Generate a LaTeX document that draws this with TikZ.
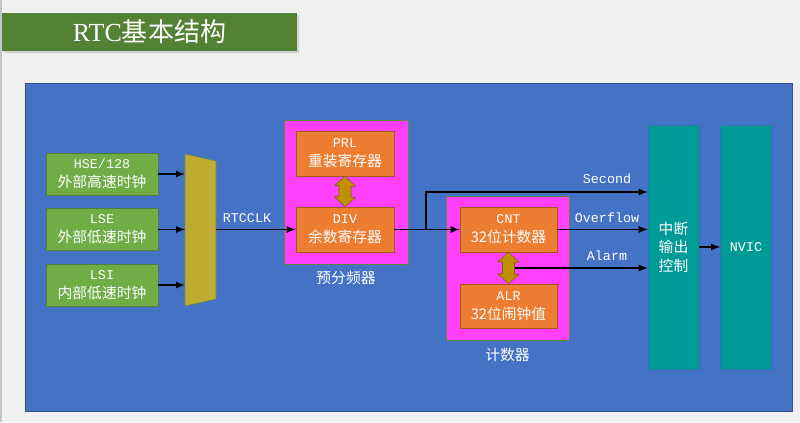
\documentclass[tikz,border=0pt]{standalone}
\usepackage{fontspec}
\setmainfont{Noto Sans CJK SC}
\setmonofont{Liberation Mono}
\newfontfamily\titlefont{Liberation Serif}
\usepackage{tikz}
\usetikzlibrary{shapes,arrows,shadows,positioning}

\definecolor{bgc}{HTML}{F0F0F0}
\definecolor{titlegreen}{HTML}{548235}
\definecolor{panelblue}{HTML}{4472C4}
\definecolor{panelline}{HTML}{2F528F}
\definecolor{clkgreen}{HTML}{70AD47}
\definecolor{clkline}{HTML}{507E32}
\definecolor{muxfill}{HTML}{BFAB32}
\definecolor{muxline}{HTML}{6F8F3F}
\definecolor{grpmag}{HTML}{FF40FF}
\definecolor{grpline}{HTML}{5A8A3A}
\definecolor{regorange}{HTML}{ED7D31}
\definecolor{regline}{HTML}{9C5B1F}
\definecolor{arrgold}{HTML}{BF9000}
\definecolor{arrline}{HTML}{7F6000}
\definecolor{irqteal}{HTML}{009A97}
\definecolor{irqline}{HTML}{2E75B6}

\newcommand{\lat}[1]{{\ttfamily\fontsize{9.5}{13.5}\selectfont #1}}

\tikzset{
  clkbox/.style={draw=clkline, fill=clkgreen, text=white, align=center,
    minimum width=2.8cm, minimum height=1.05cm, inner sep=0pt,
    font=\fontsize{10.5}{13.5}\selectfont},
  grpbox/.style={draw=grpline, fill=grpmag, minimum width=3.1cm, minimum height=3.6cm},
  regbox/.style={draw=regline, fill=regorange, text=white, align=center,
    minimum width=2.45cm, minimum height=1.125cm, inner sep=0pt,
    font=\fontsize{10.5}{13.5}\selectfont},
  dblarr/.style={draw=arrline, fill=arrgold, line join=miter},
  irqbox/.style={draw=irqline, fill=irqteal, text=white, align=center,
    minimum width=1.275cm, minimum height=6.1cm, inner sep=0pt,
    font=\fontsize{10.5}{13.2}\selectfont},
  sig/.style={->, >=latex, line width=1.2pt},
  siglbl/.style={text=white, font=\ttfamily\fontsize{9.5}{11}\selectfont},
  grplbl/.style={text=white, font=\fontsize{10.5}{13}\selectfont}
}

\begin{document}
\begin{tikzpicture}[x=0.025cm, y=-0.025cm]
  \useasboundingbox (0,0) rectangle (800,422);
  \fill[bgc] (0,0) rectangle (800,422);
  \draw[gray!45, line width=0.8pt] (1,0) -- (1,422);

  % title
  \node[fill=titlegreen, text=white, minimum width=7.375cm, minimum height=0.95cm,
        drop shadow={shadow xshift=1.5pt, shadow yshift=-1.5pt, fill=gray!60},
        font=\fontsize{18.5}{20}\selectfont] (ttl) at (149.5,32)
        {{\titlefont RTC}基本结构};

  \node[draw=panelline, fill=panelblue, minimum width=19.175cm, minimum height=8.2cm] (panel) at (408.5,247) {};

  % clock sources
  \node[clkbox] (hse) at (102,174)   {\lat{HSE/128}\\外部高速时钟};
  \node[clkbox] (lse) at (102,229.5) {\lat{LSE}\\外部低速时钟};
  \node[clkbox] (lsi) at (102,285)   {\lat{LSI}\\内部低速时钟};

  % selector
  \draw[draw=muxline, fill=muxfill] (185,154) -- (216,161) -- (216,299) -- (185,306) -- cycle;
  \coordinate (muxin) at (185,0);
  \coordinate (muxout) at (216,229.5);
  \draw[sig] (hse.east) -- (hse.east -| muxin);
  \draw[sig] (lse.east) -- (lse.east -| muxin);
  \draw[sig] (lsi.east) -- (lsi.east -| muxin);

  % prescaler
  \node[grpbox] (psc) at (346,192) {};
  \node[regbox] (prl) at (345,153.5) {\lat{PRL}\\重装寄存器};
  \node[regbox] (div) at (345,229.5) {\lat{DIV}\\余数寄存器};
  \draw[dblarr] (prl.south) -- ++(10.5,10) -- ++(-4.5,0) -- ++(0,11) -- ++(4.5,0) -- (div.north)
        -- ++(-10.5,-10) -- ++(4.5,0) -- ++(0,-11) -- ++(-4.5,0) -- cycle;
  \node[grplbl, below=1pt of psc] (psclbl) {预分频器};

  \draw[sig] (muxout) -- (div.west);
  \node[siglbl] (clklbl) at (247,218) {RTCCLK};

  % counter
  \node[grpbox, minimum width=3.075cm] (cntgrp) at (507.5,268) {};
  \node[regbox, minimum width=2.425cm] (cnt) at (508.5,229.5) {\lat{CNT}\\32位计数器};
  \node[regbox, minimum width=2.425cm, minimum height=1.1cm] (alr) at (508.5,306) {\lat{ALR}\\32位闹钟值};
  \draw[dblarr] (cnt.south) -- ++(10.5,10) -- ++(-4.5,0) -- ++(0,12) -- ++(4.5,0) -- (alr.north)
        -- ++(-10.5,-10) -- ++(4.5,0) -- ++(0,-12) -- ++(-4.5,0) -- cycle;
  \node[grplbl, below=2pt of cntgrp] (cntlbl) {计数器};

  % interrupt + nvic
  \node[irqbox] (intctl) at (673.5,247) {中断\\输出\\控制};
  \node[irqbox] (nvic) at (746,247) {\lat{NVIC}};

  \coordinate (split) at (426,229.5);
  \coordinate (sec) at (0,192);
  \coordinate (alm) at (514.5,268);
  \draw[line width=1.2pt] (div.east) -- (split);
  \draw[sig] (split) -- (cnt.west);
  \draw[sig] (split) |- (intctl.west |- sec);
  \draw[sig] (cnt.east) -- (cnt.east -| intctl.west);
  \draw[sig] (alm) -- (alm -| intctl.west);
  \draw[sig] (intctl.east) -- (nvic.west);

  \node[siglbl] (seclbl) at (607,179) {Second};
  \node[siglbl] (ovflbl) at (607,218) {Overflow};
  \node[siglbl] (almlbl) at (607,256) {Alarm};
\end{tikzpicture}
\end{document}
